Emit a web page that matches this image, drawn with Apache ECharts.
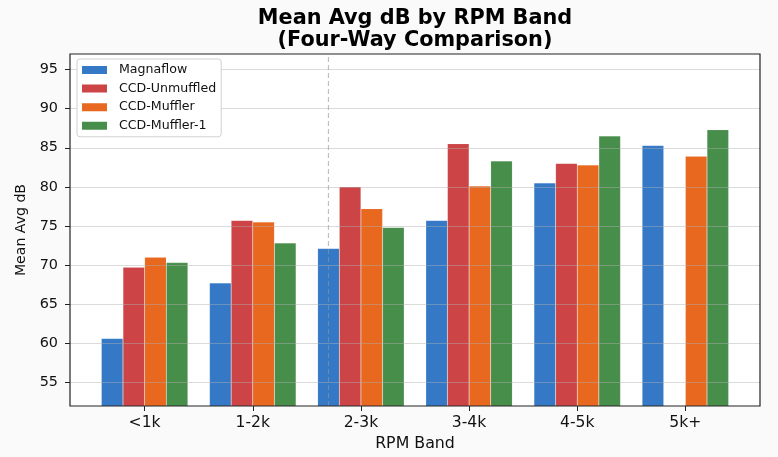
<!DOCTYPE html>
<html>
<head>
<meta charset="utf-8">
<script src="https://cdn.jsdelivr.net/npm/echarts@6/dist/echarts.min.js"></script>
<style>
html,body{margin:0;padding:0;background:#fafafa;}
#chart{width:778px;height:457px;}
</style>
</head>
<body>
<div id="chart"></div>
<script>
// ---- data ----
const categories = ['<1k', '1-2k', '2-3k', '3-4k', '4-5k', '5k+'];
const seriesNames = ['Magnaflow', 'CCD-Unmuffled', 'CCD-Muffler', 'CCD-Muffler-1'];
const magnaflow   = [60.6, 67.7, 72.1, 75.7, 80.5, 85.3];
const unmuffled   = [69.7, 75.7, 80.0, 85.5, 83.0, null];
const muffler     = [71.0, 75.5, 77.2, 80.1, 82.8, 83.9];
const muffler1    = [70.3, 72.8, 74.8, 83.3, 86.5, 87.3];
const yTicks = [55, 60, 65, 70, 75, 80, 85, 90, 95];
const yMin = 51.95, yMax = 97.0;
const xMin = -0.69, xMax = 5.69;   // continuous extent of the category positions
const vlineX = 1.7;                // dashed reference line position (category units)

const colors = ['#3478c6', '#cc4446', '#e8681f', '#488e4b'];
const values = [magnaflow, unmuffled, muffler, muffler1];

// layout
const plotLeft = 70, plotRight = 760, plotTop = 54, plotBottom = 406, W = 778, H = 457;
const unit = (plotRight - plotLeft) / (xMax - xMin);
const bandLeft = plotLeft + (-0.5 - xMin) * unit;
const bandRight = plotLeft + (5.5 - xMin) * unit;

const font = 'DejaVu Sans';
const chart = echarts.init(document.getElementById('chart'), null, {renderer: 'canvas'});

const barSeries = seriesNames.map((name, i) => ({
  name: name,
  type: 'bar',
  xAxisIndex: 1,
  yAxisIndex: 1,
  data: values[i],
  barGap: '0%',
  barCategoryGap: '20%',
  z: 2,
  itemStyle: { color: colors[i], borderColor: 'rgba(255,255,255,0.2)', borderWidth: 0.5 },
  emphasis: { disabled: true }
}));

const legendIcon = 'path://M0 0 L25 0 L25 8 L0 8 Z M32 0 L32 8 L32 0 Z';

const option = {
  backgroundColor: '#fafafa',
  animation: false,
  textStyle: { fontFamily: font },
  title: {
    text: 'Mean Avg dB by RPM Band\n(Four-Way Comparison)',
    left: (plotLeft + plotRight) / 2,
    textAlign: 'center',
    top: 7,
    padding: 0,
    textStyle: { fontFamily: font, fontWeight: 'bold', fontSize: 20.8, lineHeight: 22.5, color: '#000' }
  },
  legend: {
    orient: 'vertical',
    left: 77,
    top: 59,
    padding: [4, 5, 4, 5],
    itemGap: 4.6,
    itemWidth: 32,
    itemHeight: 8,
    icon: legendIcon,
    backgroundColor: '#ffffff',
    borderColor: '#d0d0d0',
    borderWidth: 1,
    borderRadius: 3,
    itemStyle: { borderWidth: 0 },
    textStyle: { fontFamily: font, fontSize: 12.6, lineHeight: 14, color: '#111', padding: [0, 0, 0, 0] },
    data: seriesNames
  },
  grid: [
    { left: plotLeft, right: W - plotRight, top: plotTop, bottom: H - plotBottom, show: true, backgroundColor: '#ffffff', borderWidth: 0 },
    { left: bandLeft, right: W - bandRight, top: plotTop, bottom: H - plotBottom }
  ],
  xAxis: [
    { gridIndex: 0, type: 'value', min: xMin, max: xMax, show: false },
    {
      gridIndex: 1, type: 'category', data: categories,
      axisLine: { show: true, lineStyle: { color: 'rgba(0,0,0,0)' } },
      axisTick: { show: true, alignWithLabel: true, length: 5, lineStyle: { color: '#222', width: 1 } },
      axisLabel: { fontFamily: font, fontSize: 15.6, color: '#111', margin: 9 },
      splitLine: { show: false },
      name: 'RPM Band', nameLocation: 'middle', nameGap: 28,
      nameTextStyle: { fontFamily: font, fontSize: 15.8, color: '#111' }
    }
  ],
  yAxis: [
    {
      gridIndex: 0, type: 'value', min: yMin, max: yMax,
      splitNumber: 9, minInterval: 5, maxInterval: 5,
      z: 3,
      axisLine: { show: false, onZero: false },
      axisTick: { show: true, length: 5, customValues: yTicks, lineStyle: { color: '#222', width: 1 } },
      axisLabel: { fontFamily: font, fontSize: 14.4, color: '#111', margin: 12, customValues: yTicks },
      splitLine: { show: true, lineStyle: { color: 'rgba(176,176,176,0.45)', width: 1 } },
      name: 'Mean Avg dB', nameLocation: 'middle', nameGap: 38, nameRotate: 90,
      nameTextStyle: { fontFamily: font, fontSize: 14.1, color: '#111' }
    },
    { gridIndex: 1, type: 'value', min: yMin, max: yMax, show: false, splitLine: { show: false } }
  ],
  series: barSeries.concat([{
    name: 'vline',
    type: 'line',
    xAxisIndex: 0,
    yAxisIndex: 0,
    data: [[vlineX, yMin], [vlineX, yMax]],
    symbol: 'none',
    silent: true,
    z: 4,
    lineStyle: { color: 'rgba(150,150,150,0.6)', width: 1.2, type: [5, 3] }
  }]),
  graphic: [{
    type: 'rect',
    z: 100,
    silent: true,
    shape: { x: plotLeft, y: plotTop, width: plotRight - plotLeft, height: plotBottom - plotTop },
    style: { fill: null, stroke: '#222', lineWidth: 1.2 }
  }]
};
chart.setOption(option);
</script>
</body>
</html>
